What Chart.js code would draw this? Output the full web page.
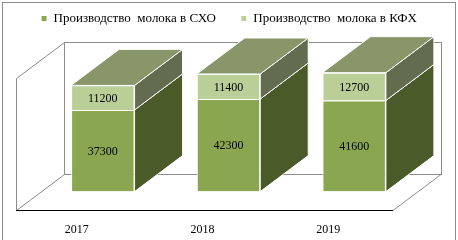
<!DOCTYPE html>
<html>
<head>
<meta charset="utf-8">
<script src="https://cdn.jsdelivr.net/npm/chart.js@4"></script>
<style>
  html, body { margin: 0; padding: 0; background: #fff; }
  #wrap { width: 458px; height: 240px; }
</style>
</head>
<body>
<div id="wrap"><canvas id="canvas" width="458" height="240"></canvas></div>
<script>
const years = ["2017", "2018", "2019"];
const cxo = [37300, 42300, 41600];
const kfx = [11200, 11400, 12700];
const seriesNames = ["Производство  молока в СХО", "Производство  молока в КФХ"];
const wallMax = 60000;

const frontColors = ["#8ba650", "#b9cf97"];
const sideColors = ["#4a5a28", "#636c4f"];
const topColor = "#88966a";
const DX = 48, DY = 36;

const box3d = {
  id: "box3d",
  beforeDraw(chart) {
    const ctx = chart.ctx;
    ctx.save();
    ctx.strokeStyle = "#8c8c8c";
    ctx.lineWidth = 1;
    ctx.strokeRect(2.5, 2.5, 453, 260);
    ctx.restore();
  },
  beforeDatasetsDraw(chart) {
    const ctx = chart.ctx;
    const a = chart.chartArea;
    const y = chart.scales.y;
    const fl = a.left - DX / 2, fr = a.right - DX / 2;
    const fy = Math.round(a.bottom + DY / 2) + 0.5;
    const top = Math.round(y.getPixelForValue(wallMax) - DY / 2) + 0.5;
    ctx.save();
    ctx.lineWidth = 1;
    ctx.strokeStyle = "#8c8c8c";
    // back wall
    ctx.strokeRect(Math.round(fl + DX) + 0.5, top, fr - fl, fy - DY - top);
    // side wall + floor diagonals
    ctx.beginPath();
    ctx.moveTo(Math.round(fl) + 0.5, fy);
    ctx.lineTo(Math.round(fl) + 0.5, top + DY);
    ctx.lineTo(Math.round(fl + DX) + 0.5, top);
    ctx.moveTo(Math.round(fl) + 0.5, fy);
    ctx.lineTo(Math.round(fl + DX) + 0.5, fy - DY);
    ctx.moveTo(fr, fy);
    ctx.lineTo(fr + DX, fy - DY);
    ctx.stroke();
    // floor front edge
    ctx.strokeStyle = "#000";
    ctx.beginPath();
    ctx.moveTo(fl, fy);
    ctx.lineTo(fr, fy);
    ctx.stroke();
    ctx.restore();
  },
  afterDatasetsDraw(chart) {
    const ctx = chart.ctx;
    const metas = [chart.getDatasetMeta(0), chart.getDatasetMeta(1)];
    ctx.save();
    ctx.lineWidth = 1;
    ctx.strokeStyle = "#fff";
    years.forEach((_, i) => {
      metas.forEach((meta, d) => {
        const el = meta.data[i];
        const r = el.x + el.width / 2;
        ctx.beginPath();
        ctx.moveTo(r, el.y);
        ctx.lineTo(r + DX, el.y - DY);
        ctx.lineTo(r + DX, el.base - DY);
        ctx.lineTo(r, el.base);
        ctx.closePath();
        ctx.fillStyle = sideColors[d];
        ctx.fill();
        ctx.stroke();
      });
      const t = metas[1].data[i];
      const l = t.x - t.width / 2, r = t.x + t.width / 2;
      ctx.beginPath();
      ctx.moveTo(l, t.y);
      ctx.lineTo(r, t.y);
      ctx.lineTo(r + DX, t.y - DY);
      ctx.lineTo(l + DX, t.y - DY);
      ctx.closePath();
      ctx.fillStyle = topColor;
      ctx.fill();
      ctx.stroke();
    });
    // values
    ctx.fillStyle = "#000";
    ctx.font = "12px 'Liberation Serif'";
    ctx.textAlign = "center";
    ctx.textBaseline = "middle";
    metas.forEach((meta, d) => {
      meta.data.forEach((el, i) => {
        const v = chart.data.datasets[d].data[i];
        ctx.fillText(String(v), el.x, (el.y + el.base) / 2 + 1);
      });
    });
    ctx.restore();
  }
};

const config = {
  type: "bar",
  data: {
    labels: years,
    datasets: [
      {
        label: seriesNames[0],
        data: cxo,
        backgroundColor: frontColors[0],
        borderColor: "#fff",
        borderWidth: 1,
      },
      {
        label: seriesNames[1],
        data: kfx,
        backgroundColor: frontColors[1],
        borderColor: "#fff",
        borderWidth: 1,
      },
    ],
  },
  options: {
    responsive: false,
    animation: false,
    layout: { padding: { left: 0, right: 0, top: -13, bottom: -28 } },
    datasets: { bar: { categoryPercentage: 1, barPercentage: 0.505 } },
    scales: {
      x: {
        stacked: true,
        grid: { display: false, drawTicks: false },
        border: { display: false },
        ticks: {
          padding: 31,
          labelOffset: -26,
          color: "#000",
          font: { family: "'Liberation Serif'", size: 12 },
        },
      },
      y: {
        stacked: true,
        min: 0,
        max: 71500,
        grid: { display: false, drawTicks: false },
        border: { display: false },
        ticks: { display: false },
        afterFit: (s) => { s.width = 40; },
      },
      yRight: {
        position: "right",
        min: 0,
        max: 1,
        grid: { display: false, drawTicks: false },
        border: { display: false },
        ticks: { display: false },
        afterFit: (s) => { s.width = 41; },
      },
    },
    plugins: {
      legend: {
        position: "top",
        labels: {
          boxWidth: 6,
          boxHeight: 6,
          padding: 25,
          color: "#000",
          font: { family: "'Liberation Serif'", size: 13 },
        },
      },
      tooltip: { enabled: false },
    },
  },
  plugins: [box3d],
};

const canvas = document.getElementById("canvas");
const chart = new Chart(canvas, config);
</script>
</body>
</html>
